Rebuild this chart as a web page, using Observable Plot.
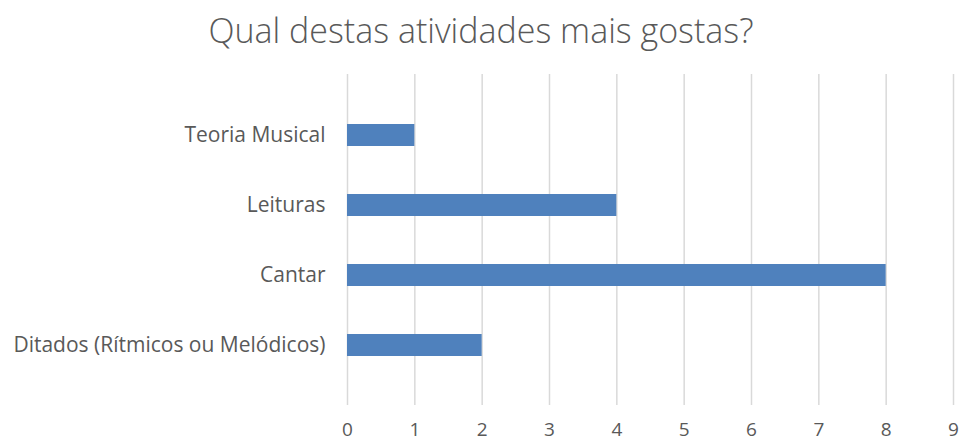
<!DOCTYPE html>
<html>
<head>
<meta charset="utf-8">
<script src="https://cdn.jsdelivr.net/npm/d3@7"></script>
<script src="https://cdn.jsdelivr.net/npm/@observablehq/plot@0.6"></script>
<style>
  body { margin: 0; background: #fff; }
  #title { height: 64px; line-height: 60px; text-align: center; font-family: "Open Sans", sans-serif; font-weight: 300; font-size: 34px; color: #595959; white-space: nowrap; padding-left: 3px; }
  #chart svg { display: block; }
</style>
</head>
<body>
<div id="title">Qual destas atividades mais gostas?</div>
<div id="chart"></div>
<script>
const categories = ["Teoria Musical", "Leituras", "Cantar", "Ditados (Rítmicos ou Melódicos)"];
const values = [1, 4, 8, 2];
const xTicks = [0, 1, 2, 3, 4, 5, 6, 7, 8, 9];

const data = categories.map((c, i) => ({ category: c, value: values[i] }));

const chart = Plot.plot({
  width: 959,
  height: 377,
  marginTop: 10,
  marginBottom: 36,
  marginLeft: 347,
  marginRight: 6,
  style: { fontFamily: "Open Sans, sans-serif", fontSize: "19px", color: "#595959", background: "#fff" },
  x: { domain: [0, 9], ticks: xTicks, label: null },
  y: { domain: categories, label: null, padding: 0.686 },
  marks: [
    Plot.gridX(xTicks, { stroke: "#d9d9d9", strokeOpacity: 1, strokeWidth: 1.5 }),
    Plot.barX(data, { x: "value", y: "category", fill: "#4f81bd" }),
    Plot.axisX(xTicks, { tickSize: 0, tickPadding: 17, fontSize: 19, fill: "#595959", label: null }),
    Plot.axisY(categories, { tickSize: 0, tickPadding: 22, fontSize: 21, fill: "#595959", label: null })
  ]
});
document.getElementById("chart").appendChild(chart);
</script>
</body>
</html>
